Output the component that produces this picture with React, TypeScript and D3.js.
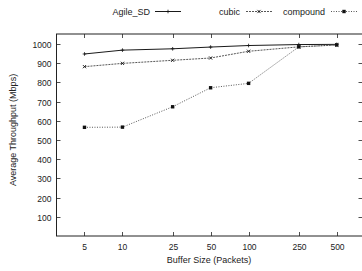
import React, { useEffect, useRef } from 'react';
import * as d3 from 'd3';

const bufferSizes = [5, 10, 25, 50, 100, 250, 500];
const agileSD = [948, 968, 975, 984, 992, 997, 998];
const cubic = [882, 899, 915, 927, 962, 985, 995];
const compound = [566, 567, 673, 772, 795, 985, 995];
const yTicks = [100, 200, 300, 400, 500, 600, 700, 800, 900, 1000];

const seriesNames = ['Agile_SD', 'cubic', 'compound'];

function App() {
  const ref = useRef<SVGSVGElement>(null);

  useEffect(() => {
    const svg = d3.select(ref.current);
    svg.selectAll('*').remove();

    const width = 362;
    const height = 271;
    const left = 56.5, top = 34, right = 362.5, bottom = 236;

    const x = d3.scaleLog().domain([3, 800]).range([left, right]);
    const y = d3.scaleLinear().domain([0, 1052]).range([bottom, top]);

    svg.attr('width', width).attr('height', height)
      .style('font-family', '"Liberation Sans", Arial, sans-serif');

    const ink = '#222';
    const fs = 9;

    // frame
    svg.append('rect')
      .attr('x', left).attr('y', top)
      .attr('width', right - left).attr('height', bottom - top)
      .attr('fill', 'none').attr('stroke', ink).attr('stroke-width', 1);

    // y ticks (left and mirrored on right)
    yTicks.forEach(t => {
      const yy = Math.round(y(t)) + 0.5;
      svg.append('line').attr('x1', left).attr('x2', left + 4).attr('y1', yy).attr('y2', yy)
        .attr('stroke', ink).attr('stroke-width', 0.8);
      svg.append('line').attr('x1', right - 4).attr('x2', right).attr('y1', yy).attr('y2', yy)
        .attr('stroke', ink).attr('stroke-width', 0.8);
      svg.append('text').attr('x', left - 5).attr('y', yy + 3)
        .attr('text-anchor', 'end').attr('font-size', fs - 0.5).attr('fill', ink).text(t);
    });

    // x ticks (bottom and mirrored on top)
    bufferSizes.forEach(b => {
      const xx = Math.round(x(b)) + 0.5;
      svg.append('line').attr('x1', xx).attr('x2', xx).attr('y1', bottom).attr('y2', bottom - 4)
        .attr('stroke', ink).attr('stroke-width', 0.8);
      svg.append('line').attr('x1', xx).attr('x2', xx).attr('y1', top).attr('y2', top + 4)
        .attr('stroke', ink).attr('stroke-width', 0.8);
      svg.append('text').attr('x', xx).attr('y', bottom + 14)
        .attr('text-anchor', 'middle').attr('font-size', fs - 0.5).attr('fill', ink).text(b);
    });

    // axis titles
    svg.append('text').attr('x', 209).attr('y', 263)
      .attr('text-anchor', 'middle').attr('font-size', fs).attr('fill', ink)
      .text('Buffer Size (Packets)');
    svg.append('text')
      .attr('transform', `translate(16, ${(top + bottom) / 2 - 5}) rotate(-90)`)
      .attr('text-anchor', 'middle').attr('font-size', fs).attr('fill', ink)
      .text('Average Throughput (Mbps)');

    const line = d3.line<number>()
      .x((d, i) => x(bufferSizes[i]))
      .y(d => y(d));

    const styles = [
      { data: agileSD, dash: null, color: '#1a1a1a', width: 1 },
      { data: cubic, dash: '2,1', color: '#444', width: 0.9 },
      { data: compound, dash: '1,1.5', color: '#444', width: 0.9 },
    ];

    const marker = (g: any, kind: number, cx: number, cy: number) => {
      if (kind === 0) {
        g.append('path').attr('d', `M${cx - 1.8},${cy}H${cx + 1.8}M${cx},${cy - 1.8}V${cy + 1.8}`)
          .attr('stroke', '#111').attr('stroke-width', 0.8);
      } else if (kind === 1) {
        g.append('path').attr('d', `M${cx - 1.6},${cy - 1.6}L${cx + 1.6},${cy + 1.6}M${cx - 1.6},${cy + 1.6}L${cx + 1.6},${cy - 1.6}`)
          .attr('stroke', '#111').attr('stroke-width', 0.9);
      } else {
        g.append('rect').attr('x', cx - 1.7).attr('y', cy - 1.7).attr('width', 3.4).attr('height', 3.4)
          .attr('fill', '#111');
      }
    };

    styles.forEach((s, k) => {
      svg.append('path').datum(s.data)
        .attr('d', line)
        .attr('fill', 'none')
        .attr('stroke', s.color)
        .attr('stroke-width', s.width)
        .attr('stroke-dasharray', s.dash);
      s.data.forEach((v, i) => marker(svg, k, x(bufferSizes[i]), y(v)));
    });

    // legend
    const legendPos = [
      { textX: 150, lineX: 155 },
      { textX: 240, lineX: 246 },
      { textX: 325, lineX: 331 },
    ];
    seriesNames.forEach((name, k) => {
      const p = legendPos[k];
      svg.append('text').attr('x', p.textX).attr('y', 15)
        .attr('text-anchor', 'end').attr('font-size', fs).attr('fill', ink).text(name);
      svg.append('line').attr('x1', p.lineX).attr('x2', p.lineX + 26).attr('y1', 11.5).attr('y2', 11.5)
        .attr('stroke', styles[k].color).attr('stroke-width', styles[k].width)
        .attr('stroke-dasharray', styles[k].dash);
      marker(svg, k, p.lineX + 13, 11.5);
    });
  }, []);

  return <svg ref={ref} style={{ display: 'block', position: 'absolute', left: 0, top: 0 }}></svg>;
}

export default App;
